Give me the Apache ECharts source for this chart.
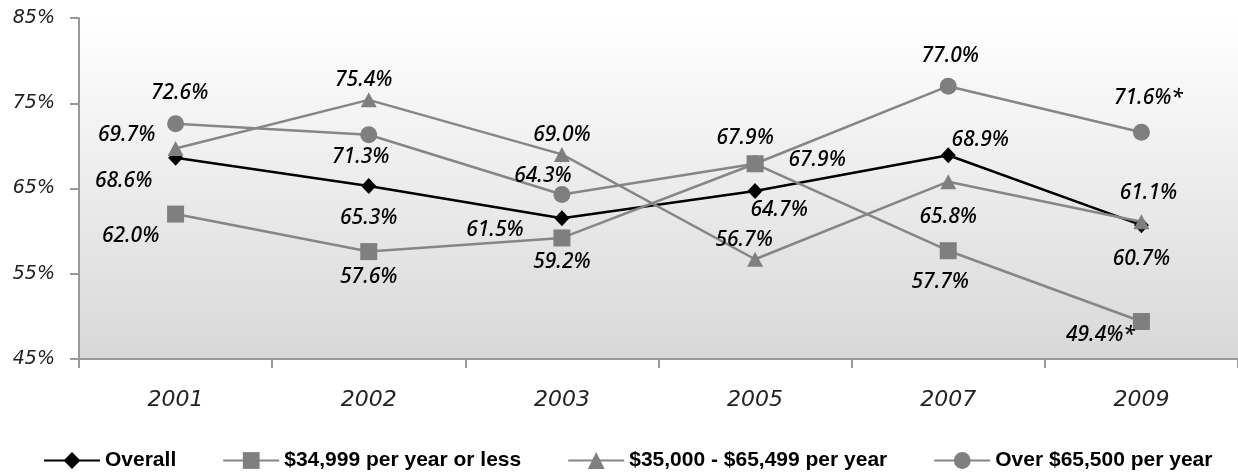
<!DOCTYPE html>
<html>
<head>
<meta charset="utf-8">
<script src="https://cdn.jsdelivr.net/npm/echarts@6/dist/echarts.min.js"></script>
<style>
html,body{margin:0;padding:0;background:#fff;}
#chart{width:1238px;height:474px;}
</style>
</head>
<body>
<div id="chart"></div>
<script>
var years = ['2001','2002','2003','2005','2007','2009'];
var seriesNames = ['Overall','$34,999 per year or less','$35,000 - $65,499 per year','Over $65,500 per year'];
var overall = [68.6, 65.3, 61.5, 64.7, 68.9, 60.7];
var low     = [62.0, 57.6, 59.2, 67.9, 57.7, 49.4];
var mid     = [69.7, 75.4, 69.0, 56.7, 65.8, 61.1];
var high    = [72.6, 71.3, 64.3, 67.9, 77.0, 71.6];
var lowNote  = ['', '', '', '', '', '*'];
var highNote = ['', '', '', '', '', '*'];
var yTicks = [45, 55, 65, 75, 85];

// label placement (layout only)
var offOverall = [[-52,23],[0,32],[-67,12],[24,19],[32,-15],[0,34]];
var offLow     = [[-45,22],[0,25],[0,24],[-10,-26],[-8,31],[-41,14]];
var offMid     = [[-49,-13],[-5,-20],[0,-19],[-11,-19],[0,35],[7,-29]];
var offHigh    = [[4,-31],[-8,22],[-19,-18],[62,-4],[2,-30],[7,-34]];

var labelFont = {fontFamily:'Noto Sans', fontStyle:'italic', fontWeight:500, fontSize:21, color:'#000'};

function build(vals, offs, notes){
  return vals.map(function(v,i){
    var txt = v.toFixed(1) + '%' + (notes ? notes[i] : '');
    return {
      value: v,
      label: Object.assign({
        show:true, position:'inside', offset: offs[i],
        align:'center', verticalAlign:'middle',
        formatter: txt
      }, labelFont)
    };
  });
}

var gray = '#868686';
var chart = echarts.init(document.getElementById('chart'), null, {renderer:'canvas'});
chart.setOption({
  animation:false,
  backgroundColor:'#ffffff',
  grid:{
    left:79, top:18, right:-5, bottom:115, containLabel:false,
    show:true, borderWidth:0,
    backgroundColor:{type:'linear', x:0, y:0, x2:0, y2:1,
      colorStops:[{offset:0,color:'#ffffff'},{offset:1,color:'#d8d8d8'}]}
  },
  legend:{
    top:445, left:38,
    itemWidth:56, itemHeight:21, itemGap:46,
    textStyle:{fontFamily:'Liberation Sans', fontWeight:'bold', fontSize:21, color:'#000'},
    data: seriesNames
  },
  xAxis:{
    type:'category', data: years, boundaryGap:true,
    axisLine:{lineStyle:{color:'#999', width:2}},
    axisTick:{show:true, length:9, lineStyle:{color:'#999', width:2}},
    axisLabel:{margin:30, fontFamily:'DejaVu Sans', fontStyle:'italic', fontSize:22, color:'#222'},
    splitLine:{show:false}
  },
  yAxis:{
    type:'value', min:45, max:85, interval:10,
    axisLine:{show:true, lineStyle:{color:'#999', width:2}},
    axisTick:{show:true, length:9, lineStyle:{color:'#999', width:2}},
    axisLabel:{margin:24, fontFamily:'DejaVu Sans', fontStyle:'italic', fontSize:19, color:'#222',
      formatter:function(v){ return yTicks.indexOf(v) >= 0 ? v + '%' : ''; }},
    splitLine:{show:false}
  },
  series:[
    {name:seriesNames[0], type:'line', data: build(overall, offOverall),
      symbol:'diamond', symbolSize:[15,16], showAllSymbol:true,
      itemStyle:{color:'#000'}, lineStyle:{color:'#000', width:2.5}},
    {name:seriesNames[1], type:'line', data: build(low, offLow, lowNote),
      symbol:'rect', symbolSize:17,
      itemStyle:{color:'#7f7f7f'}, lineStyle:{color:gray, width:2.5}},
    {name:seriesNames[2], type:'line', data: build(mid, offMid),
      symbol:'triangle', symbolSize:[16,15],
      itemStyle:{color:'#7f7f7f'}, lineStyle:{color:gray, width:2.5}},
    {name:seriesNames[3], type:'line', data: build(high, offHigh, highNote),
      symbol:'circle', symbolSize:17,
      itemStyle:{color:'#7f7f7f'}, lineStyle:{color:gray, width:2.5}}
  ]
});
</script>
</body>
</html>
